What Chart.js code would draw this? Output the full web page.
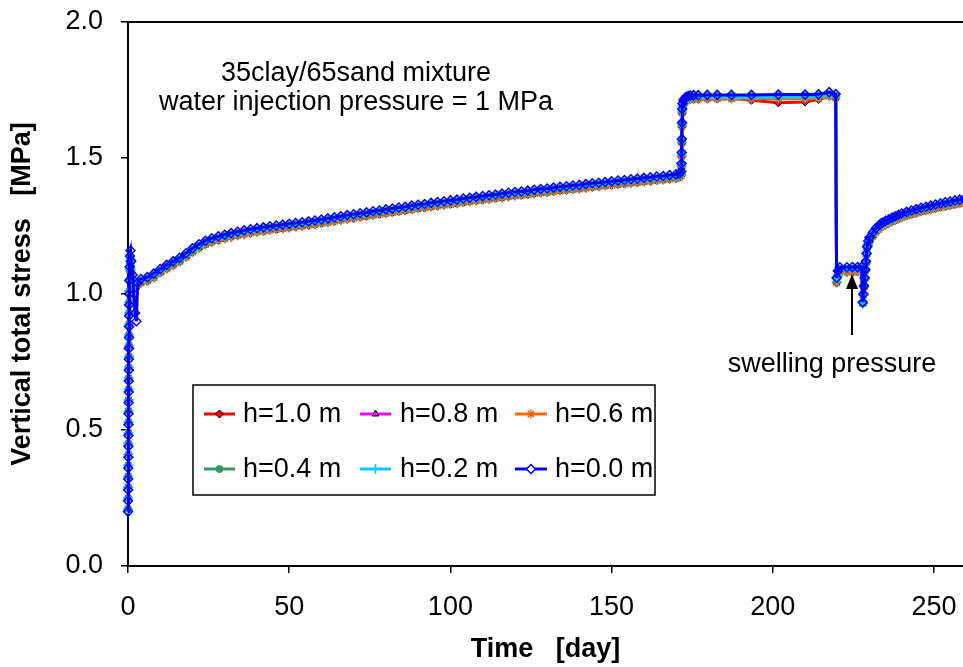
<!DOCTYPE html>
<html><head><meta charset="utf-8">
<script src="https://cdn.jsdelivr.net/npm/chart.js@4.4.1/dist/chart.umd.min.js"></script>
<style>html,body{margin:0;padding:0;background:#fff;overflow:hidden}</style>
</head><body>
<canvas id="c" width="963" height="667" style="display:block"></canvas>
<script>
// ---- DATA ----
const days = [
 0,0.02,0.04,0.06,0.08,0.1,0.12,0.14,0.16,0.18,0.2,0.22,0.24,0.26,0.28,0.3,0.32,0.34,0.36,0.38,0.4,0.45,0.5,0.6,0.8,
 1,1.4,1.8,2.2,2.6,3,
 4,6,8,10,12,14,16,18,20,22,24,26,28,30,32,34,36,38,40,42,44,46,48,50,52,54,56,58,60,62,64,66,68,70,72,74,76,78,80,82,84,86,88,90,92,94,96,98,100,102,104,106,108,110,112,114,116,118,120,122,124,126,128,130,132,134,136,138,140,142,144,146,148,150,152,154,156,158,160,162,164,166,168,170,
 171,171.6,171.7,171.75,171.8,171.85,171.9,172,172.3,172.7,173.2,173.8,174.4,175.4,176.9,179.7,182.8,187.2,193.4,201.7,210,214.2,217.5,219.5,
 219.8,220.2,220.8,223,224.7,226.3,227.6,
 227.9,228.1,228.3,228.5,228.7,228.9,229.1,229.3,
 229.6,230,231,232,233,234,235,236,237,238,239,240,241.5,243,244.5,246,247.5,249,250.5,252,253.5,255,256.5,258,259.5,261
];

const h00 = [
 0.2,0.24,0.28,0.32,0.36,0.4,0.44,0.48,0.52,0.56,0.6,0.64,0.68,0.72,0.76,0.8,0.84,0.88,0.92,0.96,1,1.05,1.1,1.14,1.16,
 1.12,1.07,1,0.93,0.9,1.04,
 1.055,1.062,1.075,1.092,1.107,1.12,1.133,1.15,1.168,1.183,
 1.196,1.205,1.212,1.218,1.224,1.229,1.234,1.238,1.242,1.245,
 1.249,1.252,1.255,1.258,1.261,1.264,1.267,1.27,1.274,1.278,
 1.282,1.286,1.29,1.293,1.297,1.3,1.304,1.307,1.311,1.314,
 1.318,1.321,1.325,1.328,1.331,1.335,1.338,1.341,1.344,1.347,
 1.351,1.354,1.357,1.36,1.363,1.366,1.369,1.372,1.375,1.377,
 1.38,1.383,1.386,1.388,1.391,1.394,1.396,1.399,1.401,1.404,
 1.407,1.409,1.412,1.414,1.417,1.419,1.422,1.424,1.427,1.429,
 1.432,1.434,1.437,1.44,
 1.442,1.45,1.48,1.52,1.57,1.63,1.68,1.7,1.712,1.72,1.725,1.728,1.73,1.731,1.731,1.732,1.732,1.732,1.732,1.733,1.733,1.734,1.742,1.735,
 1.06,1.085,1.098,1.098,1.099,1.099,1.1,
 0.97,1,1.03,1.06,1.09,1.12,1.15,1.175,
 1.195,1.208,1.226,1.242,1.253,1.262,1.269,1.275,1.281,1.286,1.291,1.296,1.302,1.307,1.312,1.317,1.321,1.325,1.329,1.333,1.337,1.34,1.344,1.347,1.35,1.353
];

const h02 = [
 0.21,0.25,0.29,0.33,0.37,0.41,0.45,0.49,0.53,0.57,0.61,0.65,0.69,0.73,0.77,0.81,0.85,0.89,0.93,0.97,1.01,1.05,1.09,1.12,1.13,
 1.09,1.05,1.035,1.03,1.03,1.04,
 1.045,1.052,1.065,1.082,1.097,1.11,1.123,1.14,1.158,1.173,
 1.186,1.195,1.202,1.208,1.214,1.219,1.224,1.228,1.232,1.235,
 1.239,1.242,1.245,1.248,1.251,1.254,1.257,1.26,1.264,1.268,
 1.272,1.276,1.28,1.283,1.287,1.29,1.294,1.297,1.301,1.304,
 1.308,1.311,1.315,1.318,1.321,1.325,1.328,1.331,1.334,1.337,
 1.341,1.344,1.347,1.35,1.353,1.356,1.359,1.362,1.365,1.367,
 1.37,1.373,1.376,1.378,1.381,1.384,1.386,1.389,1.391,1.394,
 1.397,1.399,1.402,1.404,1.407,1.409,1.412,1.414,1.417,1.419,
 1.422,1.424,1.427,1.43,
 1.432,1.44,1.47,1.51,1.56,1.62,1.67,1.69,1.702,1.71,1.715,1.718,1.72,1.721,1.721,1.722,1.722,1.722,1.722,1.723,1.723,1.724,1.732,1.725,
 1.045,1.07,1.085,1.086,1.087,1.087,1.088,
 0.965,0.995,1.025,1.055,1.085,1.115,1.145,1.17,
 1.185,1.198,1.216,1.232,1.243,1.252,1.259,1.265,1.271,1.276,1.281,1.286,1.292,1.297,1.302,1.307,1.311,1.315,1.319,1.323,1.327,1.33,1.334,1.337,1.34,1.343
];

const h04 = [
 0.21,0.25,0.29,0.33,0.37,0.41,0.45,0.49,0.53,0.57,0.61,0.65,0.69,0.73,0.77,0.81,0.85,0.89,0.93,0.97,1.01,1.05,1.09,1.12,1.13,
 1.1,1.06,1.045,1.04,1.04,1.045,
 1.05,1.057,1.07,1.087,1.102,1.115,1.128,1.145,1.163,1.178,
 1.191,1.2,1.207,1.213,1.219,1.224,1.229,1.233,1.237,1.24,
 1.244,1.247,1.25,1.253,1.256,1.259,1.262,1.265,1.269,1.273,
 1.277,1.281,1.285,1.288,1.292,1.295,1.299,1.302,1.306,1.309,
 1.313,1.316,1.32,1.323,1.326,1.33,1.333,1.336,1.339,1.342,
 1.346,1.349,1.352,1.355,1.358,1.361,1.364,1.367,1.37,1.372,
 1.375,1.378,1.381,1.383,1.386,1.389,1.391,1.394,1.396,1.399,
 1.402,1.404,1.407,1.409,1.412,1.414,1.417,1.419,1.422,1.424,
 1.427,1.429,1.432,1.435,
 1.437,1.445,1.475,1.515,1.565,1.625,1.675,1.695,1.707,1.715,1.72,1.723,1.725,1.726,1.726,1.727,1.727,1.727,1.727,1.728,1.728,1.729,1.737,1.73,
 1.055,1.08,1.093,1.093,1.094,1.094,1.095,
 0.965,0.995,1.025,1.055,1.085,1.115,1.145,1.17,
 1.19,1.203,1.221,1.24,1.254,1.266,1.27,1.273,1.277,1.282,1.287,1.291,1.297,1.302,1.307,1.312,1.316,1.32,1.324,1.328,1.332,1.335,1.339,1.342,1.345,1.348
];

const h06 = [
 0.21,0.25,0.29,0.33,0.37,0.41,0.45,0.49,0.53,0.57,0.61,0.65,0.69,0.73,0.77,0.81,0.85,0.89,0.93,0.97,1.01,1.05,1.09,1.12,1.13,
 1.08,1.04,1.025,1.025,1.025,1.035,
 1.04,1.047,1.06,1.077,1.092,1.105,1.118,1.135,1.153,1.168,
 1.181,1.19,1.197,1.203,1.209,1.214,1.219,1.223,1.227,1.23,
 1.234,1.237,1.24,1.243,1.246,1.249,1.252,1.255,1.259,1.263,
 1.267,1.271,1.275,1.278,1.282,1.285,1.289,1.292,1.296,1.299,
 1.303,1.306,1.31,1.313,1.316,1.32,1.323,1.326,1.329,1.332,
 1.336,1.339,1.342,1.345,1.348,1.351,1.354,1.357,1.36,1.362,
 1.365,1.368,1.371,1.373,1.376,1.379,1.381,1.384,1.386,1.389,
 1.392,1.394,1.397,1.399,1.402,1.404,1.407,1.409,1.412,1.414,
 1.417,1.419,1.422,1.425,
 1.427,1.435,1.465,1.505,1.555,1.615,1.665,1.685,1.697,1.705,1.71,1.713,1.715,1.716,1.716,1.717,1.717,1.717,1.717,1.718,1.718,1.719,1.727,1.72,
 1.04,1.065,1.079,1.08,1.08,1.081,1.082,
 0.965,0.995,1.025,1.055,1.085,1.115,1.145,1.17,
 1.18,1.193,1.211,1.227,1.238,1.247,1.254,1.26,1.266,1.271,1.276,1.281,1.287,1.292,1.297,1.302,1.306,1.31,1.314,1.318,1.322,1.325,1.329,1.332,1.335,1.338
];

const h08 = [
 0.21,0.25,0.29,0.33,0.37,0.41,0.45,0.49,0.53,0.57,0.61,0.65,0.69,0.73,0.77,0.81,0.85,0.89,0.93,0.97,1.01,1.05,1.09,1.12,1.13,
 1.09,1.05,1.03,1.03,1.03,1.038,
 1.043,1.05,1.063,1.08,1.095,1.108,1.121,1.138,1.156,1.171,
 1.184,1.193,1.2,1.206,1.212,1.217,1.222,1.226,1.23,1.233,
 1.237,1.24,1.243,1.246,1.249,1.252,1.255,1.258,1.262,1.266,
 1.27,1.274,1.278,1.281,1.285,1.288,1.292,1.295,1.299,1.302,
 1.306,1.309,1.313,1.316,1.319,1.323,1.326,1.329,1.332,1.335,
 1.339,1.342,1.345,1.348,1.351,1.354,1.357,1.36,1.363,1.365,
 1.368,1.371,1.374,1.376,1.379,1.382,1.384,1.387,1.389,1.392,
 1.395,1.397,1.4,1.402,1.405,1.407,1.41,1.412,1.415,1.417,
 1.42,1.422,1.425,1.428,
 1.43,1.438,1.468,1.508,1.558,1.618,1.668,1.688,1.7,1.708,1.713,1.716,1.718,1.719,1.719,1.72,1.72,1.72,1.72,1.721,1.721,1.722,1.73,1.723,
 1.045,1.07,1.084,1.085,1.085,1.086,1.087,
 0.965,0.995,1.025,1.055,1.085,1.115,1.145,1.17,
 1.183,1.196,1.214,1.23,1.241,1.25,1.257,1.263,1.269,1.274,1.279,1.284,1.29,1.295,1.3,1.305,1.309,1.313,1.317,1.321,1.325,1.328,1.332,1.335,1.338,1.341
];

const h10 = [
 0.21,0.25,0.29,0.33,0.37,0.41,0.45,0.49,0.53,0.57,0.61,0.65,0.69,0.73,0.77,0.81,0.85,0.89,0.93,0.97,1.01,1.05,1.09,1.12,1.13,
 1.08,1.04,1.025,1.025,1.025,1.035,
 1.04,1.047,1.06,1.077,1.092,1.105,1.118,1.135,1.153,1.168,
 1.181,1.19,1.197,1.203,1.209,1.214,1.219,1.223,1.227,1.23,
 1.234,1.237,1.24,1.243,1.246,1.249,1.252,1.255,1.259,1.263,
 1.267,1.271,1.275,1.278,1.282,1.285,1.289,1.292,1.296,1.299,
 1.303,1.306,1.31,1.313,1.316,1.32,1.323,1.326,1.329,1.332,
 1.336,1.339,1.342,1.345,1.348,1.351,1.354,1.357,1.36,1.362,
 1.365,1.368,1.371,1.373,1.376,1.379,1.381,1.384,1.386,1.389,
 1.392,1.394,1.397,1.399,1.402,1.404,1.407,1.409,1.412,1.414,
 1.417,1.419,1.422,1.425,
 1.427,1.435,1.465,1.505,1.555,1.615,1.665,1.685,1.697,1.705,1.71,1.713,1.715,1.716,1.716,1.717,1.717,1.72,1.712,1.703,1.706,1.715,1.727,1.72,
 1.04,1.065,1.079,1.08,1.08,1.081,1.082,
 0.965,0.995,1.025,1.055,1.085,1.115,1.145,1.17,
 1.18,1.193,1.211,1.227,1.238,1.247,1.254,1.26,1.266,1.271,1.276,1.281,1.287,1.292,1.297,1.302,1.306,1.31,1.314,1.318,1.322,1.325,1.329,1.332,1.335,1.338
];

const seriesLabels = ['h=1.0 m','h=0.8 m','h=0.6 m','h=0.4 m','h=0.2 m','h=0.0 m'];
const seriesValues = [h10, h08, h06, h04, h02, h00];
const xTickStep = 50;
const yTickStep = 0.5;
const noteLines = ['35clay/65sand mixture', 'water injection pressure = 1 MPa'];
const arrowLabel = 'swelling pressure';
const xTitle = 'Time   [day]';
const yTitle = 'Vertical total stress   [MPa]';

// ---- STYLE ----
const FF = "'Liberation Sans', Arial, Helvetica, sans-serif";
const lineColors = ['#FF0000','#FF00FF','#FF6600','#339966','#00CCFF','#0000FF'];
const pointStyles = ['rectRot','triangle','star','circle','cross','rectRot'];
const pointFills = ['#FF0000','#FF00FF','#FF6600','#339966','#00CCFF','rgba(255,255,255,0)'];
const pointBorders = ['#000000','#000000','#FF6600','#339966','#00CCFF','#0000FF'];
const pointRadii = [4,4,4.5,3.5,5,4.5];
const pointBorderWidths = [1,1,1.5,1,1.5,1.5];

const datasets = seriesValues.map((vals, i) => ({
  label: seriesLabels[i],
  data: days.map((d, j) => ({x: d, y: vals[j]})),
  borderColor: lineColors[i],
  backgroundColor: pointFills[i],
  pointStyle: pointStyles[i],
  pointRadius: pointRadii[i],
  pointBackgroundColor: pointFills[i],
  pointBorderColor: pointBorders[i],
  pointBorderWidth: pointBorderWidths[i],
  borderWidth: 3,
  tension: 0,
  order: 5 - i,
  clip: 6
}));

const overlay = {
  id: 'overlay',
  afterDraw(chart) {
    const ctx = chart.ctx, ca = chart.chartArea;
    ctx.save();
    // top frame line
    ctx.strokeStyle = '#000'; ctx.lineWidth = 2;
    ctx.beginPath(); ctx.moveTo(ca.left - 1, ca.top); ctx.lineTo(chart.width, ca.top); ctx.stroke();
    // notes
    ctx.fillStyle = '#000';
    ctx.font = '27px ' + FF;
    ctx.textAlign = 'center'; ctx.textBaseline = 'alphabetic';
    ctx.fillText(noteLines[0], 356, 81);
    ctx.fillText(noteLines[1], 356, 110);
    ctx.fillText(arrowLabel, 832, 372);
    // arrow
    ctx.lineWidth = 2;
    ctx.beginPath(); ctx.moveTo(852, 335); ctx.lineTo(852, 284); ctx.stroke();
    ctx.beginPath(); ctx.moveTo(852, 274); ctx.lineTo(846, 289); ctx.lineTo(858, 289); ctx.closePath(); ctx.fill();
    // legend
    const bx = 193, by = 385, bw = 462, bh = 110;
    ctx.fillStyle = '#fff'; ctx.fillRect(bx, by, bw, bh);
    ctx.strokeStyle = '#000'; ctx.lineWidth = 1.5; ctx.strokeRect(bx, by, bw, bh);
    const colLine = [[204,235],[360,391],[515,547]];
    const colText = [243, 400, 555];
    const rowY = [414, 469];
    chart.data.datasets.forEach((ds, i) => {
      const c = i % 3, r = Math.floor(i / 3);
      const y = rowY[r];
      ctx.strokeStyle = ds.borderColor; ctx.lineWidth = 3;
      ctx.beginPath(); ctx.moveTo(colLine[c][0], y); ctx.lineTo(colLine[c][1], y); ctx.stroke();
      const mx = (colLine[c][0] + colLine[c][1]) / 2;
      ctx.fillStyle = ds.pointBackgroundColor === 'rgba(255,255,255,0)' ? '#fff' : ds.pointBackgroundColor;
      ctx.strokeStyle = ds.pointBorderColor; ctx.lineWidth = ds.pointBorderWidth;
      Chart.helpers.drawPoint(ctx, {pointStyle: ds.pointStyle, radius: ds.pointRadius, rotation: 0, borderWidth: ds.pointBorderWidth}, mx, y);
      ctx.fillStyle = '#000'; ctx.font = '27px ' + FF;
      ctx.textAlign = 'left'; ctx.textBaseline = 'middle';
      ctx.fillText(ds.label, colText[c], y + 1);
    });
    ctx.restore();
  }
};

function noPad(s) { s.paddingTop = 0; s.paddingBottom = 0; s.paddingLeft = 0; s.paddingRight = 0; }

new Chart(document.getElementById('c'), {
  type: 'line',
  data: { datasets },
  plugins: [overlay],
  options: {
    responsive: false,
    animation: false,
    events: [],
    layout: { autoPadding: false, padding: { top: 22, right: 0, left: 0, bottom: 0 } },
    plugins: { legend: { display: false }, tooltip: { enabled: false } },
    scales: {
      x: {
        type: 'linear', min: 0, max: 259,
        ticks: { stepSize: xTickStep, includeBounds: false, color: '#000', font: { family: FF, size: 27, lineHeight: 2.53 }, padding: 0, maxRotation: 0 },
        grid: { drawOnChartArea: false, drawTicks: true, tickLength: 7, color: '#000', lineWidth: 1.5 },
        border: { color: '#000', width: 2 },
        title: { display: true, text: xTitle, color: '#000', font: { family: FF, size: 27, weight: 'bold' }, padding: { top: 0, bottom: 1 } },
        afterFit(s) { s.height = 101; noPad(s); }
      },
      y: {
        min: 0, max: 2,
        ticks: { stepSize: yTickStep, color: '#000', font: { family: FF, size: 27 }, padding: 18, callback: v => Number(v).toFixed(1) },
        grid: { drawOnChartArea: false, drawTicks: true, tickLength: 7, color: '#000', lineWidth: 1.5 },
        border: { color: '#000', width: 2 },
        title: { display: true, text: yTitle, color: '#000', font: { family: FF, size: 27, weight: 'bold' }, padding: { top: 6, bottom: 0 } },
        afterFit(s) { s.width = 128; noPad(s); }
      }
    }
  }
});
</script>
</body></html>
